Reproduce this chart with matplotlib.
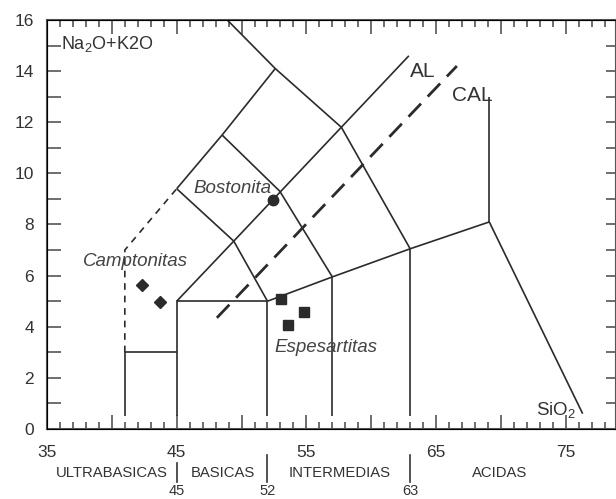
import matplotlib
matplotlib.use("Agg")
import matplotlib.pyplot as plt
from matplotlib.ticker import MultipleLocator

plt.rcParams["font.family"] = ["Liberation Sans", "DejaVu Sans"]
plt.rcParams["mathtext.fontset"] = "custom"
plt.rcParams["mathtext.rm"] = "Liberation Sans"

# field boundaries (SiO2, Na2O+K2O)
solid_lines = [
    ([41, 41, 45], [0.5, 3, 3]),
    ([45, 45, 52, 52], [0.5, 5, 5, 0.5]),
    ([45, 49.4, 52], [5, 7.35, 5]),
    ([52, 57, 63, 69.1, 76.3], [5, 5.95, 7.05, 8.1, 0.6]),
    ([57, 57], [0.5, 5.95]),
    ([63, 63], [0.5, 7.05]),
    ([69.1, 69.1], [8.1, 13.0]),
    ([45, 49.4], [9.4, 7.35]),
    ([49.4, 62.9], [7.35, 14.6]),
    ([45, 48.5, 52.6], [9.4, 11.5, 14.1]),
    ([48.9, 52.6, 57.7, 63], [16, 14.1, 11.8, 7.05]),
    ([48.5, 52.95, 57], [11.5, 9.3, 5.95]),
]
dashed_short = ([41, 41, 45], [3, 7, 9.4])
dashed_long = ([48.1, 66.6], [4.35, 14.2])

camptonitas_x = [42.3, 43.7]
camptonitas_y = [5.62, 4.97]
bostonita_x = [52.4]
bostonita_y = [8.95]
espesartitas_x = [53.05, 53.6, 54.8]
espesartitas_y = [5.1, 4.05, 4.57]

x_ticklabels = [35, 45, 55, 65, 75]
groups = ["ULTRABASICAS", "BASICAS", "INTERMEDIAS", "ACIDAS"]
group_x = [40.0, 48.55, 57.6, 69.9]
limits = [45, 52, 63]

ink = "#2b2b2b"
fig = plt.figure(figsize=(6.16, 4.99), dpi=100)
ax = fig.add_axes([47 / 616, 70 / 499, 568.5 / 616, 409 / 499])
ax.set_xlim(35, 35 + 568.5 / 12.97)
ax.set_ylim(0, 16)

for xs, ys in solid_lines:
    ax.plot(xs, ys, color=ink, lw=1.2, solid_capstyle="butt")
ax.plot(*dashed_short, color=ink, lw=1.2, dashes=(4, 3.5))
ax.plot(*dashed_long, color=ink, lw=2.0, dashes=(6.5, 3.5))

ax.plot(camptonitas_x, camptonitas_y, "D", color=ink, ms=6.5, ls="none")
ax.plot(bostonita_x, bostonita_y, "o", color=ink, ms=7.5, ls="none")
ax.plot(espesartitas_x, espesartitas_y, "s", color=ink, ms=6.5, ls="none")

ax.text(49.26, 9.4, "Bostonita", style="italic", fontsize=13.5, color="#444",
        ha="center", va="center")
ax.text(41.85, 6.56, "Camptonitas", style="italic", fontsize=13.5, color="#444",
        ha="center", va="center")
ax.text(56.5, 3.2, "Espesartitas", style="italic", fontsize=13.5, color="#444",
        ha="center", va="center")
ax.text(63.95, 14.0, "AL", fontsize=15, color="#333", ha="center", va="center")
ax.text(67.8, 13.05, "CAL", fontsize=15, color="#333", ha="center", va="center")
ax.text(36.05, 15.08, r"Na$_\mathregular{2}$O+K2O", fontsize=13, color="#333",
        ha="left", va="center")
ax.text(75.8, 0.72, r"SiO$_\mathregular{2}$", fontsize=13.5, color="#333",
        ha="right", va="center")

# ticks
ax.xaxis.set_major_locator(MultipleLocator(5))
ax.xaxis.set_minor_locator(MultipleLocator(1))
ax.yaxis.set_major_locator(MultipleLocator(2))
ax.yaxis.set_minor_locator(MultipleLocator(1))
ax.tick_params(axis="x", which="both", direction="in", top=True, bottom=True,
               color="#555", width=1.2, labelbottom=False)
ax.tick_params(axis="x", which="major", length=10)
ax.tick_params(axis="x", which="minor", length=5)
ax.tick_params(axis="y", which="both", direction="in", length=10, color="#555",
               width=1.2, labelsize=12.5, labelcolor="#333", pad=9.5)
for s in ax.spines.values():
    s.set_color("#555")
    s.set_linewidth(1.5)

rax = ax.twinx()
rax.set_ylim(0, 16)
rax.yaxis.set_major_locator(MultipleLocator(1))
rax.tick_params(axis="y", direction="in", length=7, color="#555", width=1.2,
                labelright=False)
rax.spines["right"].set_visible(False)

xt = ax.get_xaxis_transform()
for v in x_ticklabels:
    ax.text(v, -0.058, str(v), transform=xt, fontsize=12.5, color="#333",
            ha="center", va="center")
for name, gx in zip(groups, group_x):
    ax.text(gx, -0.108, name, transform=xt, fontsize=10.7, color="#333",
            ha="center", va="center")
for i, lim in enumerate(limits):
    top = -0.082 if i == 0 else -0.063
    ax.plot([lim, lim], [top, -0.13], transform=xt, color="#333", lw=1.2,
            clip_on=False)
    ax.text(lim, -0.168, str(lim), transform=xt, fontsize=10.5, color="#333",
            ha="center", va="bottom")

fig.savefig("out.png", dpi=100)
